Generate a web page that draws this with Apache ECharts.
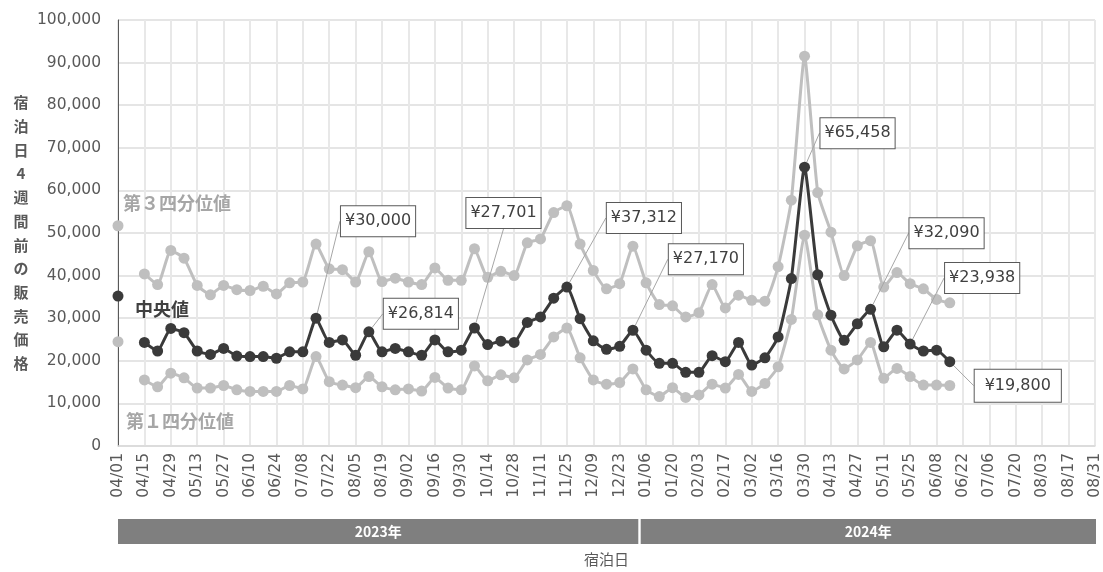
<!DOCTYPE html>
<html><head><meta charset="utf-8">
<script src="https://cdn.jsdelivr.net/npm/echarts@6/dist/echarts.min.js"></script>
<style>html,body{margin:0;padding:0;background:#fff}#c{width:1103px;height:572px}</style>
</head><body><div id="c"></div>
<script>
// ---- data ----
const dates = [
 '04/01','04/08','04/15','04/22','04/29','05/06','05/13','05/20','05/27','06/03',
 '06/10','06/17','06/24','07/01','07/08','07/15','07/22','07/29','08/05','08/12',
 '08/19','08/26','09/02','09/09','09/16','09/23','09/30','10/07','10/14','10/21',
 '10/28','11/04','11/11','11/18','11/25','12/02','12/09','12/16','12/23','12/30',
 '01/06','01/13','01/20','01/27','02/03','02/10','02/17','02/24','03/02','03/09',
 '03/16','03/23','03/30','04/06','04/13','04/20','04/27','05/04','05/11','05/18',
 '05/25','06/01','06/08','06/15','06/22','06/29','07/06','07/13','07/20','07/27',
 '08/03','08/10','08/17','08/24','08/31'
];
const q3 = [
 51700,null,40400,37900,45900,44100,37700,35500,37700,36700,
 36500,37500,35700,38300,38500,47400,41600,41400,38500,45600,
 38600,39400,38500,37900,41800,38900,38900,46300,39600,41000,
 40000,47700,48600,54800,56400,47400,41200,36900,38100,46900,
 38300,33200,32900,30300,31300,37900,32400,35400,34200,34000,
 42100,57700,91500,59500,50200,40000,47000,48200,37300,40700,
 38100,36900,34400,33600
];
const median = [
 35200,null,24300,22300,27600,26600,22300,21500,22900,21100,
 21000,21000,20600,22100,22100,30000,24300,24900,21300,26814,
 22100,22900,22100,21300,24900,22100,22500,27701,23800,24600,
 24300,29000,30300,34700,37312,29900,24700,22700,23400,27170,
 22500,19400,19400,17300,17300,21200,19800,24300,19000,20700,
 25600,39300,65458,40200,30700,24800,28700,32090,23300,27200,
 23938,22300,22500,19800
];
const q1 = [
 24500,null,15500,13900,17100,16000,13600,13600,14200,13200,
 12800,12800,12800,14200,13400,21000,15100,14300,13700,16300,
 13900,13200,13400,12900,16100,13600,13200,18800,15300,16700,
 16000,20200,21500,25600,27700,20700,15500,14500,14900,18100,
 13200,11600,13700,11400,12000,14500,13600,16800,12800,14700,
 18600,29700,49500,30800,22500,18100,20200,24300,15900,18200,
 16300,14300,14300,14200
];
const calloutIdx = [15,19,27,34,39,52,57,60,63];
const years = ['2023年','2024年'];
const yearSpans = [[0,39],[40,74]];
const seriesNames = ['第３四分位値','第１四分位値','中央値'];
const yTitle = '宿泊日4週間前の販売価格';

// ---- layout (not data) ----
const calloutOffset = [[62,-97],[52,-18],[29,-115],[77,-69],[73,-71],[53,-34],[76,-76],[72,-66],[68,24]];
const calloutPad = [[5,4],[5,4],[5,4],[5,4],[5,4],[5,4],[5,4],[5,4],[6,10]];
const NUMF = "'DejaVu Sans','Noto Sans CJK JP',sans-serif";
const JPF = "'Noto Sans CJK JP','DejaVu Sans',sans-serif";
const LIGHT = '#BFBFBF', DARK = '#3A3A3A';

const chart = echarts.init(document.getElementById('c'));
const medData = median.map((v,i)=> {
  const k = calloutIdx.indexOf(i);
  return k>=0 ? {value:v, label:{show:true, padding:calloutPad[k]}} : v;
});

const lineBase = {type:'line', smooth:0.15, connectNulls:false, symbol:'circle', symbolSize:11,
  showSymbol:true, showAllSymbol:true, animation:false};
const option = {
  animation:false,
  grid:{left:118,right:8,top:20,bottom:124},
  xAxis:{
    type:'category', data:dates, boundaryGap:false,
    name:'宿泊日', nameLocation:'middle', nameGap:106,
    nameTextStyle:{color:'#595959',fontSize:15,fontFamily:JPF},
    axisLine:{lineStyle:{color:'#D9D9D9',width:1.5}},
    axisTick:{show:false},
    axisLabel:{interval:1, rotate:90, color:'#595959', fontSize:15.5, fontFamily:NUMF, margin:7},
    splitLine:{show:true, interval:1, lineStyle:{color:'#E8E8E8',width:2}}
  },
  yAxis:{
    type:'value', min:0, max:100000, interval:10000,
    name: yTitle.split('').join('\n'),
    nameLocation:'middle', nameGap:97, nameRotate:0,
    nameTextStyle:{color:'#595959',fontSize:15,fontWeight:'bold',lineHeight:23.7,fontFamily:JPF,align:'center'},
    axisLine:{show:true, lineStyle:{color:'#595959',width:1}},
    axisTick:{show:false},
    axisLabel:{color:'#595959', fontSize:15.5, fontFamily:NUMF, margin:17,
      formatter:v=>v.toLocaleString('en-US')},
    splitLine:{lineStyle:{color:'#DDDDDD',width:1.5}}
  },
  series:[
    Object.assign({}, lineBase, {name:seriesNames[0], data:q3, itemStyle:{color:LIGHT}, lineStyle:{color:LIGHT,width:3}, z:2}),
    Object.assign({}, lineBase, {name:seriesNames[1], data:q1, itemStyle:{color:LIGHT}, lineStyle:{color:LIGHT,width:3}, z:2}),
    Object.assign({}, lineBase, {name:seriesNames[2], data:medData, itemStyle:{color:DARK}, lineStyle:{color:DARK,width:3}, z:3,
      label:{show:false, position:'inside', formatter:p=>'¥'+p.value.toLocaleString('en-US'),
        backgroundColor:'#fff', borderColor:'#595959', borderWidth:1, lineHeight:20,
        color:'#404040', fontSize:16, fontFamily:NUMF},
      labelLine:{show:true, lineStyle:{color:'#A6A6A6',width:1}},
      labelLayout:function(p){
        if(p.seriesIndex!==2) return;
        const k = calloutIdx.indexOf(p.dataIndex);
        if(k<0) return;
        return {dx:calloutOffset[k][0], dy:calloutOffset[k][1]};
      }
    })
  ]
};
chart.setOption(option);

// year bands below axis, positioned via axis scale
const px = i => chart.convertToPixel({xAxisIndex:0}, i);
const graphics = [];
yearSpans.forEach((s,k)=>{
  const left = s[0]===0 ? px(0) : (px(s[0]-1)+px(s[0]))/2 + 1.2;
  const right = s[1]===dates.length-1 ? px(s[1]) + 1 : (px(s[1])+px(s[1]+1))/2 - 1.2;
  graphics.push({type:'rect', shape:{x:left,y:519,width:right-left,height:25}, style:{fill:'#7F7F7F'}, silent:true});
  graphics.push({type:'text', x:(left+right)/2, y:531.5, style:{text:years[k], fill:'#fff', font:"bold 14px "+JPF, textAlign:'center', textVerticalAlign:'middle'}, silent:true});
});
graphics.push({type:'text', x:123, y:203.5, style:{text:seriesNames[0], fill:'#A6A6A6', font:"bold 18px "+JPF, textVerticalAlign:'middle'}});
graphics.push({type:'text', x:135, y:309.5, style:{text:seriesNames[2], fill:'#404040', font:"bold 18px "+JPF, textVerticalAlign:'middle'}});
graphics.push({type:'text', x:126, y:421.5, style:{text:seriesNames[1], fill:'#A6A6A6', font:"bold 18px "+JPF, textVerticalAlign:'middle'}});
chart.setOption({graphic:graphics});
</script>
</body></html>
